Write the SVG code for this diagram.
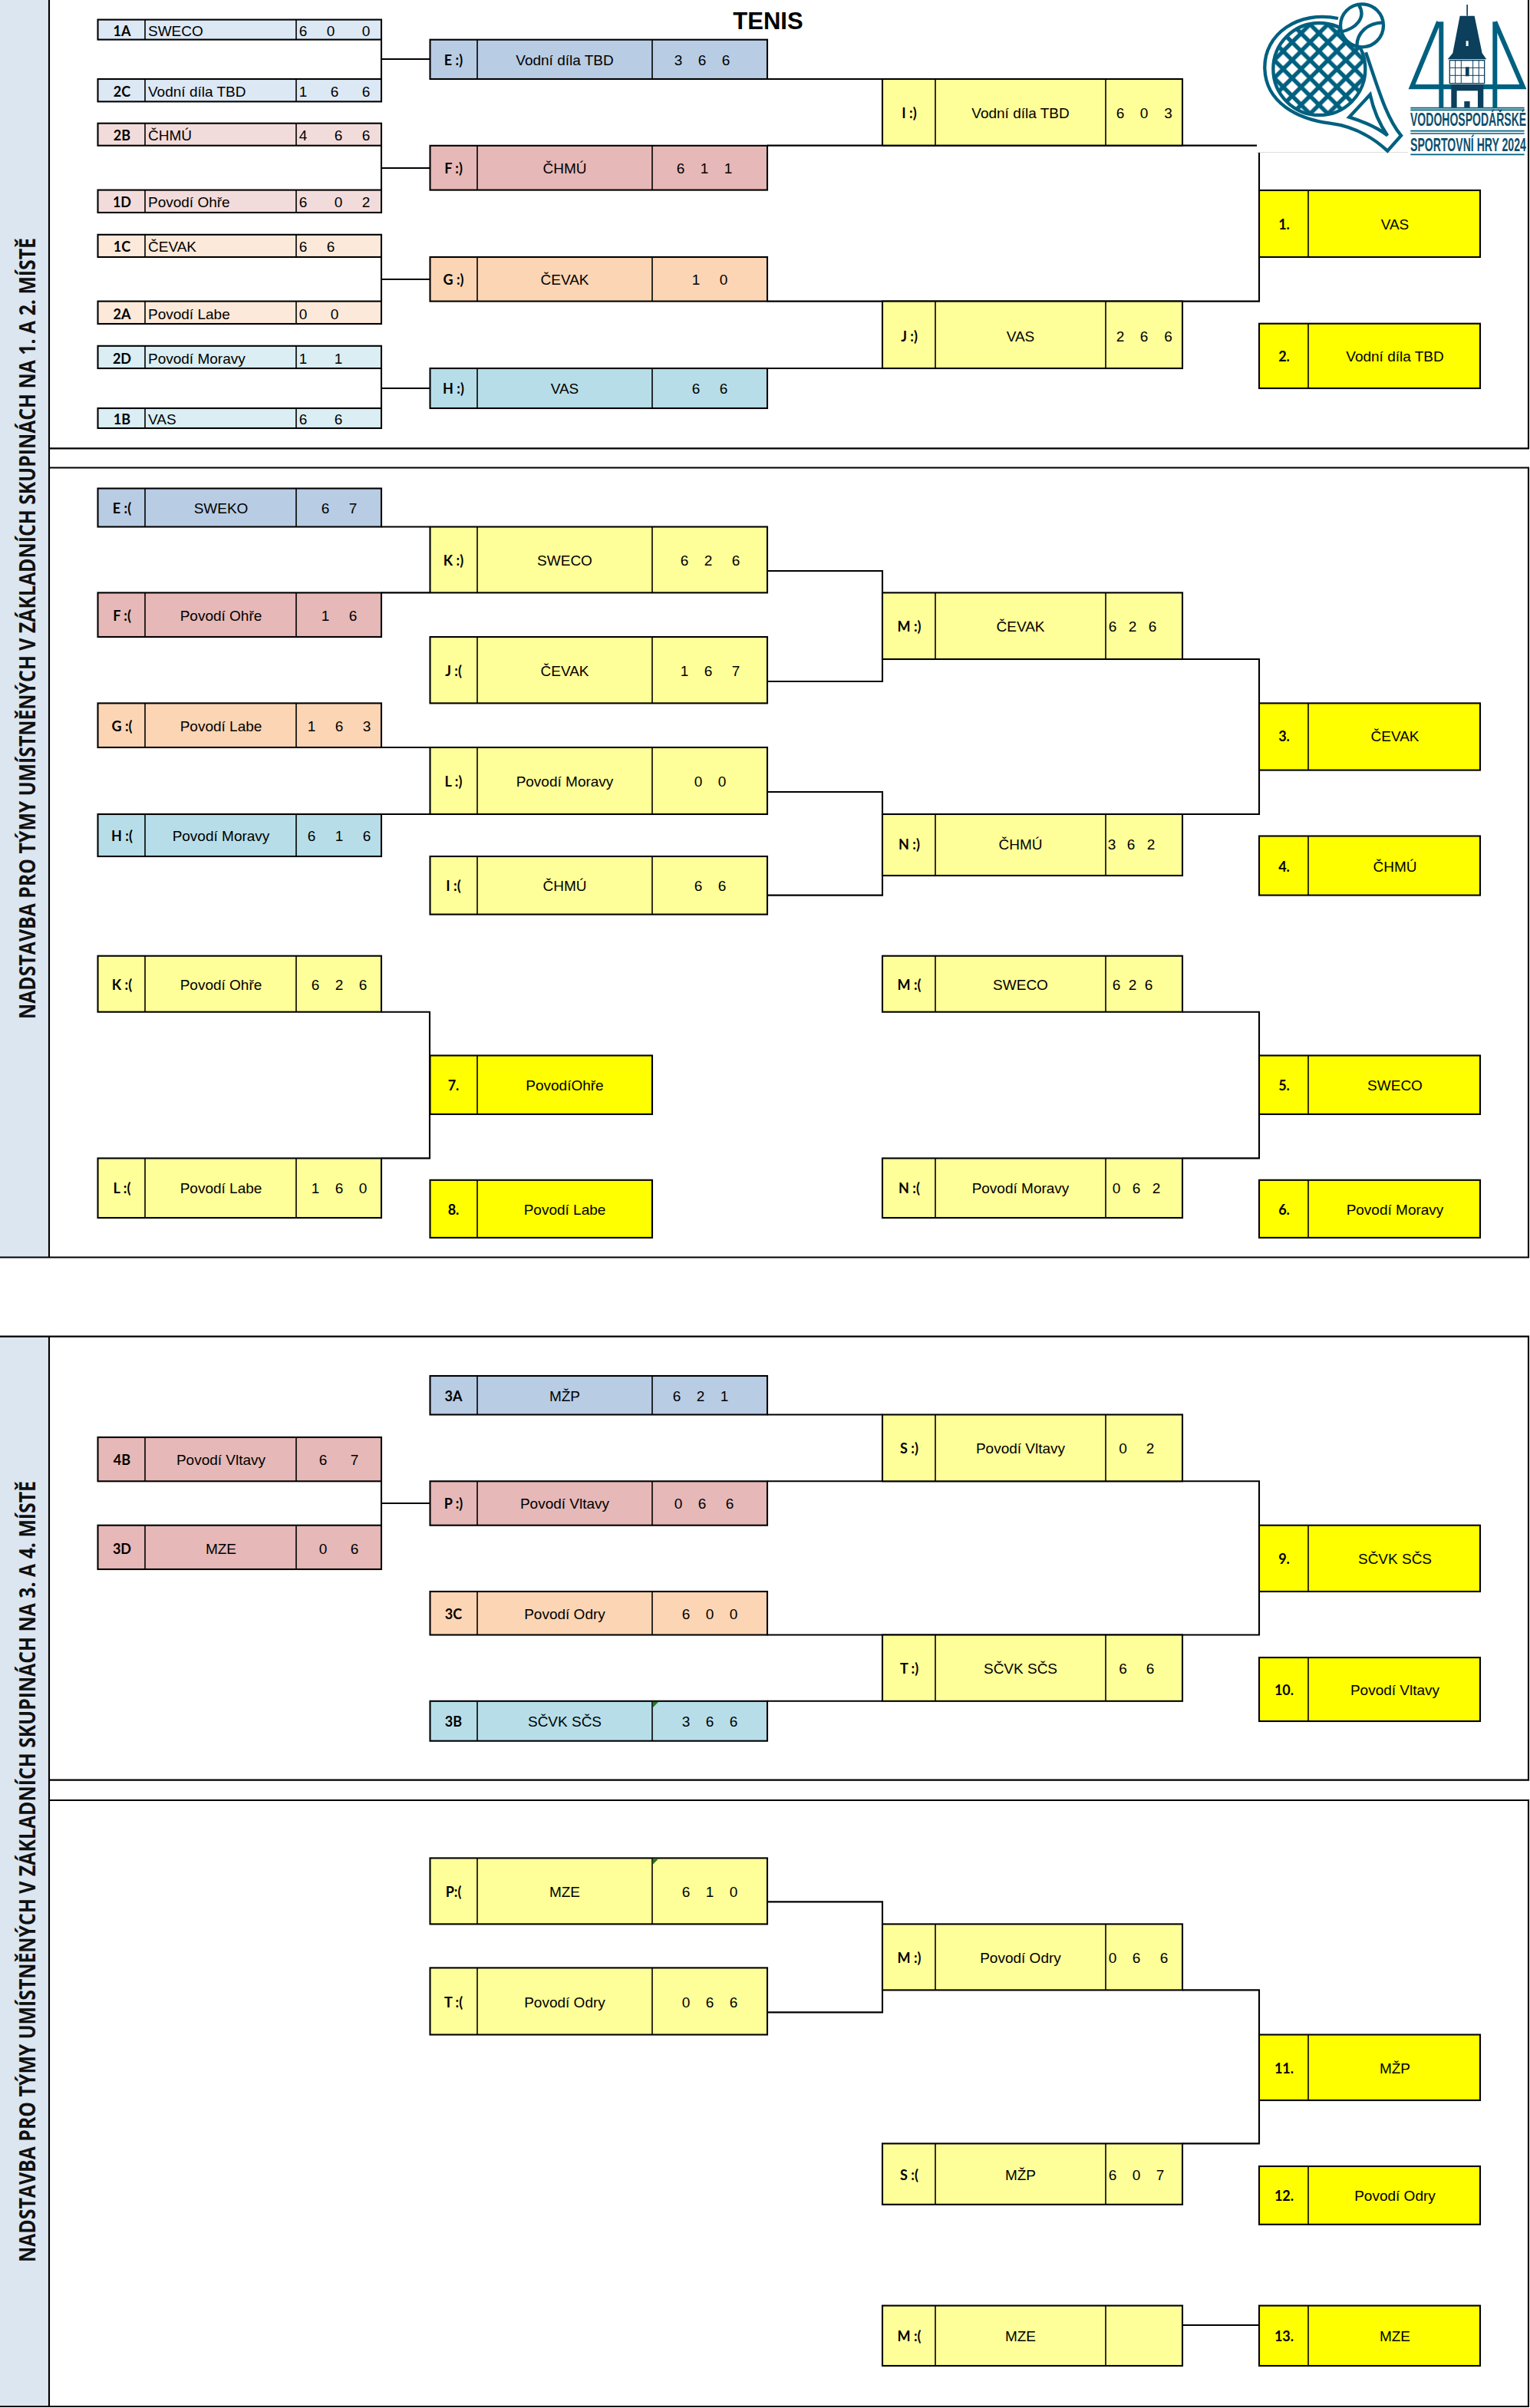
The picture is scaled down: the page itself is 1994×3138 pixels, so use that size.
<svg xmlns="http://www.w3.org/2000/svg" width="1994" height="3138" viewBox="0 0 1994 3138">
<style>
text{fill:#000}
.box{stroke:#000;stroke-width:2.1}
.div{stroke:#000;stroke-width:1.6;fill:none}
.c{fill:none;stroke:#000;stroke-width:2.1}
.lab{font:bold 18px Lato,"Liberation Sans",sans-serif;text-anchor:middle}
.nm{font:19px "Liberation Sans",Arial,sans-serif;text-anchor:middle}
.nl{font:19px "Liberation Sans",Arial,sans-serif}
.sc{font:19px "Liberation Sans",Arial,sans-serif;text-anchor:middle}
.band{font:bold 28px "Open Sans",sans-serif;fill:#111}
.b0{fill:#DDE8F5}.p0{fill:#F2DCDB}.o0{fill:#FDE9D9}.a0{fill:#DAEEF3}
.b1{fill:#B8CCE4}.p1{fill:#E6B8B7}.o1{fill:#FCD5B4}.a1{fill:#B7DEE8}
.ly{fill:#FFFF99}.yy{fill:#FFFF00}
.tri{fill:#1E7B1E}
.t{fill:none;stroke:#00607F;stroke-width:13}
.d{fill:#0B3F5C}
.logoT{font:bold 23px "Liberation Sans",Arial,sans-serif;fill:#0E4F6E}
</style>
<defs>
<pattern id="net" width="70" height="70" patternUnits="userSpaceOnUse" patternTransform="translate(17 -10)">
<path d="M-10 10L10 -10M-5 75L75 -5M60 80L80 60M-10 60L10 80M-5 -5L75 75M60 -10L80 10" stroke="#00607F" stroke-width="16" fill="none"/>
</pattern>
<clipPath id="head"><ellipse cx="298" cy="270" rx="180" ry="180"/></clipPath>
</defs>
<rect width="1994" height="3138" fill="#fff"/>
<g id="bands">
<rect x="0" y="0" width="64" height="1638" fill="#DCE6F1"/>
<rect x="0" y="1741" width="64" height="1395" fill="#DCE6F1"/>
<text class="band" transform="translate(46 1328) rotate(-90)" textLength="1018" lengthAdjust="spacingAndGlyphs">NADSTAVBA PRO TÝMY UMÍSTNĚNÝCH V ZÁKLADNÍCH SKUPINÁCH NA 1. A 2. MÍSTĚ</text>
<text class="band" transform="translate(46 2948) rotate(-90)" textLength="1018" lengthAdjust="spacingAndGlyphs">NADSTAVBA PRO TÝMY UMÍSTNĚNÝCH V ZÁKLADNÍCH SKUPINÁCH NA 3. A 4. MÍSTĚ</text>
</g>
<g id="panels">
<path class="c" d="M64 0V1638.5M0 1638.5H1992V609.5H64M64 584.4H1992V0"/>
<path class="c" d="M0 1741.6H1992V2319.6H64M64 2346H1992V3136H0M64 1741.6V3136"/>
</g>
<text id="title" x="1001" y="38" text-anchor="middle" style="font:bold 31px 'Liberation Sans',Arial,sans-serif">TENIS</text>
<g id="connectors">
<path class="c" d="M497 52V103M497 77H560M497 190V248M497 219H560M497 335V393M497 364H560M497 480V532M497 506H560"/>
<path class="c" d="M1000 103H1150M1000 189.6H1640M1000 392.6H1641V195M1000 480H1150"/>
<path class="c" d="M497 686.5H560M497 772.4H560M497 974H560M497 1061H560M497 1318.7H560V1509.4H497"/>
<path class="c" d="M1000 744H1150V888H1000M1000 1032H1150V1166.6H1000M1541 859H1641V1061H1541M1541 1318.7H1641V1509.4H1541"/>
<path class="c" d="M497 1930V1988M497 1959H560M1000 1843.5H1150M1000 1930.3H1641V2130.5H1000M1000 2216.8H1150"/>
<path class="c" d="M1000 2478.4H1150V2622.4H1000M1541 2593.4H1641V2793.4H1541M1541 3030H1641"/>
</g>

<g id="n1A"><rect class="box b0" x="127.5" y="25.6" width="369.5" height="26"/><path class="div" d="M189 25.6V51.6M386 25.6V51.6"/><text class="lab" x="159" y="47">1A</text><text class="nl" x="193" y="47">SWECO</text><text class="sc" x="395 413 431 454 477" y="47">6 0 0</text></g>
<g id="n2C"><rect class="box b0" x="127.5" y="103" width="369.5" height="29.4"/><path class="div" d="M189 103V132.4M386 103V132.4"/><text class="lab" x="159" y="125.5">2C</text><text class="nl" x="193" y="125.5">Vodní díla TBD</text><text class="sc" x="395 415 436 456 477" y="125.5">1 6 6</text></g>
<g id="n2B"><rect class="box p0" x="127.5" y="160.7" width="369.5" height="29"/><path class="div" d="M189 160.7V189.7M386 160.7V189.7"/><text class="lab" x="159" y="183">2B</text><text class="nl" x="193" y="183">ČHMÚ</text><text class="sc" x="395 418 441 459 477" y="183">4 6 6</text></g>
<g id="n1D"><rect class="box p0" x="127.5" y="247.6" width="369.5" height="29.4"/><path class="div" d="M189 247.6V277M386 247.6V277"/><text class="lab" x="159" y="270">1D</text><text class="nl" x="193" y="270">Povodí Ohře</text><text class="sc" x="395 418 441 459 477" y="270">6 0 2</text></g>
<g id="n1C"><rect class="box o0" x="127.5" y="305.8" width="369.5" height="29.2"/><path class="div" d="M189 305.8V335M386 305.8V335"/><text class="lab" x="159" y="328">1C</text><text class="nl" x="193" y="328">ČEVAK</text><text class="sc" x="395 413 431" y="328">6 6</text></g>
<g id="n2A"><rect class="box o0" x="127.5" y="392.6" width="369.5" height="29.4"/><path class="div" d="M189 392.6V422M386 392.6V422"/><text class="lab" x="159" y="415.5">2A</text><text class="nl" x="193" y="415.5">Povodí Labe</text><text class="sc" x="395 415 436" y="415.5">0 0</text></g>
<g id="n2D"><rect class="box a0" x="127.5" y="450.8" width="369.5" height="29.2"/><path class="div" d="M189 450.8V480M386 450.8V480"/><text class="lab" x="159" y="473.5">2D</text><text class="nl" x="193" y="473.5">Povodí Moravy</text><text class="sc" x="395 418 441" y="473.5">1 1</text></g>
<g id="n1B"><rect class="box a0" x="127.5" y="532" width="369.5" height="26"/><path class="div" d="M189 532V558M386 532V558"/><text class="lab" x="159" y="553">1B</text><text class="nl" x="193" y="553">VAS</text><text class="sc" x="395 418 441" y="553">6 6</text></g>

<g id="nE"><rect class="box b1" x="560.5" y="51.7" width="439.5" height="51.3"/><path class="div" d="M622 51.7V103M850 51.7V103"/><text class="lab" x="591" y="85">E :)</text><text class="nm" x="736" y="85">Vodní díla TBD</text><text class="sc" x="884 900 915 930 946" y="85">3 6 6</text></g>
<g id="nF"><rect class="box p1" x="560.5" y="189.8" width="439.5" height="57.8"/><path class="div" d="M622 189.8V247.6M850 189.8V247.6"/><text class="lab" x="591" y="226">F :)</text><text class="nm" x="736" y="226">ČHMÚ</text><text class="sc" x="887 902 918 933 949" y="226">6 1 1</text></g>
<g id="nG"><rect class="box o1" x="560.5" y="335" width="439.5" height="57.6"/><path class="div" d="M622 335V392.6M850 335V392.6"/><text class="lab" x="591" y="371">G :)</text><text class="nm" x="736" y="371">ČEVAK</text><text class="sc" x="907 925 943" y="371">1 0</text></g>
<g id="nH"><rect class="box a1" x="560.5" y="480" width="439.5" height="52"/><path class="div" d="M622 480V532M850 480V532"/><text class="lab" x="591" y="513">H :)</text><text class="nm" x="736" y="513">VAS</text><text class="sc" x="907 925 943" y="513">6 6</text></g>

<g id="nI"><rect class="box ly" x="1150" y="103" width="391" height="86.6"/><path class="div" d="M1219 103V189.6M1441 103V189.6"/><text class="lab" x="1185" y="154">I :)</text><text class="nm" x="1330" y="154">Vodní díla TBD</text><text class="sc" x="1460 1475 1491 1507 1522.5" y="154">6 0 3</text></g>
<g id="nJ"><rect class="box ly" x="1150" y="392.6" width="391" height="87.4"/><path class="div" d="M1219 392.6V480M1441 392.6V480"/><text class="lab" x="1185" y="444.5">J :)</text><text class="nm" x="1330" y="444.5">VAS</text><text class="sc" x="1460 1475 1491 1507 1522.5" y="444.5">2 6 6</text></g>
<g id="r1"><rect class="box yy" x="1641" y="248" width="288" height="87"/><path class="div" d="M1705 248V335"/><text class="lab" x="1673.5" y="299">1.</text><text class="nm" x="1818" y="299">VAS</text></g>
<g id="r2"><rect class="box yy" x="1641" y="421.7" width="288" height="84.3"/><path class="div" d="M1705 421.7V506"/><text class="lab" x="1673.5" y="471">2.</text><text class="nm" x="1818" y="471">Vodní díla TBD</text></g>

<g id="nEl"><rect class="box b1" x="127.5" y="636.5" width="369.5" height="50"/><path class="div" d="M189 636.5V686.5M386 636.5V686.5"/><text class="lab" x="159" y="668.5">E :(</text><text class="nm" x="288" y="668.5">SWEKO</text><text class="sc" x="424 442 460" y="668.5">6 7</text></g>
<g id="nFl"><rect class="box p1" x="127.5" y="772.4" width="369.5" height="57.6"/><path class="div" d="M189 772.4V830M386 772.4V830"/><text class="lab" x="159" y="808.5">F :(</text><text class="nm" x="288" y="808.5">Povodí Ohře</text><text class="sc" x="424 442 460" y="808.5">1 6</text></g>
<g id="nGl"><rect class="box o1" x="127.5" y="916.4" width="369.5" height="57.6"/><path class="div" d="M189 916.4V974M386 916.4V974"/><text class="lab" x="159" y="953">G :(</text><text class="nm" x="288" y="953">Povodí Labe</text><text class="sc" x="406 424 442 460 478" y="953">1 6 3</text></g>
<g id="nHl"><rect class="box a1" x="127.5" y="1061" width="369.5" height="55"/><path class="div" d="M189 1061V1116M386 1061V1116"/><text class="lab" x="159" y="1096">H :(</text><text class="nm" x="288" y="1096">Povodí Moravy</text><text class="sc" x="406 424 442 460 478" y="1096">6 1 6</text></g>
<g id="nKl"><rect class="box ly" x="127.5" y="1245.7" width="369.5" height="73"/><path class="div" d="M189 1245.7V1318.7M386 1245.7V1318.7"/><text class="lab" x="159" y="1290">K :(</text><text class="nm" x="288" y="1290">Povodí Ohře</text><text class="sc" x="411 426 442 457 473" y="1290">6 2 6</text></g>
<g id="nLl"><rect class="box ly" x="127.5" y="1509.4" width="369.5" height="77.6"/><path class="div" d="M189 1509.4V1587M386 1509.4V1587"/><text class="lab" x="159" y="1555">L :(</text><text class="nm" x="288" y="1555">Povodí Labe</text><text class="sc" x="411 426 442 457 473" y="1555">1 6 0</text></g>

<g id="nKw"><rect class="box ly" x="560.5" y="686.5" width="439.5" height="85.9"/><path class="div" d="M622 686.5V772.4M850 686.5V772.4"/><text class="lab" x="591" y="737">K :)</text><text class="nm" x="736" y="737">SWECO</text><text class="sc" x="892 907 923 941 959" y="737">6 2 6</text></g>
<g id="nJl"><rect class="box ly" x="560.5" y="830" width="439.5" height="86.4"/><path class="div" d="M622 830V916.4M850 830V916.4"/><text class="lab" x="591" y="881">J :(</text><text class="nm" x="736" y="881">ČEVAK</text><text class="sc" x="892 907 923 941 959" y="881">1 6 7</text></g>
<g id="nLw"><rect class="box ly" x="560.5" y="974" width="439.5" height="87"/><path class="div" d="M622 974V1061M850 974V1061"/><text class="lab" x="591" y="1025">L :)</text><text class="nm" x="736" y="1025">Povodí Moravy</text><text class="sc" x="910 925 941" y="1025">0 0</text></g>
<g id="nIl"><rect class="box ly" x="560.5" y="1116" width="439.5" height="75.6"/><path class="div" d="M622 1116V1191.6M850 1116V1191.6"/><text class="lab" x="591" y="1161">I :(</text><text class="nm" x="736" y="1161">ČHMÚ</text><text class="sc" x="910 925 941" y="1161">6 6</text></g>
<g id="r7"><rect class="box yy" x="560.5" y="1375.5" width="289.5" height="76.5"/><path class="div" d="M622 1375.5V1452"/><text class="lab" x="591" y="1421">7.</text><text class="nm" x="736" y="1421">PovodíOhře</text></g>
<g id="r8"><rect class="box yy" x="560.5" y="1537.8" width="289.5" height="75.1"/><path class="div" d="M622 1537.8V1612.9"/><text class="lab" x="591" y="1582.5">8.</text><text class="nm" x="736" y="1582.5">Povodí Labe</text></g>

<g id="nMw"><rect class="box ly" x="1150" y="772.4" width="391" height="86.6"/><path class="div" d="M1219 772.4V859M1441 772.4V859"/><text class="lab" x="1185" y="822.5">M :)</text><text class="nm" x="1330" y="822.5">ČEVAK</text><text class="sc" x="1450 1463 1476 1489 1502" y="822.5">6 2 6</text></g>
<g id="nNw"><rect class="box ly" x="1150" y="1061" width="391" height="80"/><path class="div" d="M1219 1061V1141M1441 1061V1141"/><text class="lab" x="1185" y="1107">N :)</text><text class="nm" x="1330" y="1107">ČHMÚ</text><text class="sc" x="1449 1461 1474 1487 1500" y="1107">3 6 2</text></g>
<g id="r3"><rect class="box yy" x="1641" y="916.4" width="288" height="87.2"/><path class="div" d="M1705 916.4V1003.6"/><text class="lab" x="1673.5" y="966">3.</text><text class="nm" x="1818" y="966">ČEVAK</text></g>
<g id="r4"><rect class="box yy" x="1641" y="1089.5" width="288" height="77.1"/><path class="div" d="M1705 1089.5V1166.6"/><text class="lab" x="1673.5" y="1135.5">4.</text><text class="nm" x="1818" y="1135.5">ČHMÚ</text></g>
<g id="nMl"><rect class="box ly" x="1150" y="1245.7" width="391" height="73"/><path class="div" d="M1219 1245.7V1318.7M1441 1245.7V1318.7"/><text class="lab" x="1185" y="1290">M :(</text><text class="nm" x="1330" y="1290">SWECO</text><text class="sc" x="1455 1465 1476 1486 1497" y="1290">6 2 6</text></g>
<g id="nNl"><rect class="box ly" x="1150" y="1509.4" width="391" height="77.6"/><path class="div" d="M1219 1509.4V1587M1441 1509.4V1587"/><text class="lab" x="1185" y="1555">N :(</text><text class="nm" x="1330" y="1555">Povodí Moravy</text><text class="sc" x="1455 1468 1481 1494 1507" y="1555">0 6 2</text></g>
<g id="r5"><rect class="box yy" x="1641" y="1375.5" width="288" height="76.5"/><path class="div" d="M1705 1375.5V1452"/><text class="lab" x="1673.5" y="1421">5.</text><text class="nm" x="1818" y="1421">SWECO</text></g>
<g id="r6"><rect class="box yy" x="1641" y="1537.8" width="288" height="75.1"/><path class="div" d="M1705 1537.8V1612.9"/><text class="lab" x="1673.5" y="1582.5">6.</text><text class="nm" x="1818" y="1582.5">Povodí Moravy</text></g>

<g id="n4B"><rect class="box p1" x="127.5" y="1873" width="369.5" height="57.3"/><path class="div" d="M189 1873V1930.3M386 1873V1930.3"/><text class="lab" x="159" y="1909">4B</text><text class="nm" x="288" y="1909">Povodí Vltavy</text><text class="sc" x="421 441 462" y="1909">6 7</text></g>
<g id="n3D"><rect class="box p1" x="127.5" y="1987.7" width="369.5" height="57.3"/><path class="div" d="M189 1987.7V2045M386 1987.7V2045"/><text class="lab" x="159" y="2024.5">3D</text><text class="nm" x="288" y="2024.5">MZE</text><text class="sc" x="421 441 462" y="2024.5">0 6</text></g>
<g id="n3A"><rect class="box b1" x="560.5" y="1793" width="439.5" height="50.5"/><path class="div" d="M622 1793V1843.5M850 1793V1843.5"/><text class="lab" x="591" y="1825.5">3A</text><text class="nm" x="736" y="1825.5">MŽP</text><text class="sc" x="882 898 913 929 944" y="1825.5">6 2 1</text></g>
<g id="nPw"><rect class="box p1" x="560.5" y="1930.3" width="439.5" height="57.4"/><path class="div" d="M622 1930.3V1987.7M850 1930.3V1987.7"/><text class="lab" x="591" y="1966">P :)</text><text class="nm" x="736" y="1966">Povodí Vltavy</text><text class="sc" x="884 900 915 933 951" y="1966">0 6 6</text></g>
<g id="n3C"><rect class="box o1" x="560.5" y="2074" width="439.5" height="56.5"/><path class="div" d="M622 2074V2130.5M850 2074V2130.5"/><text class="lab" x="591" y="2110">3C</text><text class="nm" x="736" y="2110">Povodí Odry</text><text class="sc" x="894 910 925 941 956" y="2110">6 0 0</text></g>
<g id="n3B"><rect class="box a1" x="560.5" y="2216.8" width="439.5" height="51.9"/><path class="div" d="M622 2216.8V2268.7M850 2216.8V2268.7"/><path class="tri" d="M851 2218H858L851 2225Z"/><text class="lab" x="591" y="2250">3B</text><text class="nm" x="736" y="2250">SČVK SČS</text><text class="sc" x="894 910 925 941 956" y="2250">3 6 6</text></g>
<g id="nS"><rect class="box ly" x="1150" y="1843.5" width="391" height="86.8"/><path class="div" d="M1219 1843.5V1930.3M1441 1843.5V1930.3"/><text class="lab" x="1185" y="1894">S :)</text><text class="nm" x="1330" y="1894">Povodí Vltavy</text><text class="sc" x="1463.5 1481 1499" y="1894">0 2</text></g>
<g id="nT"><rect class="box ly" x="1150" y="2130.5" width="391" height="86.3"/><path class="div" d="M1219 2130.5V2216.8M1441 2130.5V2216.8"/><text class="lab" x="1185" y="2181">T :)</text><text class="nm" x="1330" y="2181">SČVK SČS</text><text class="sc" x="1463.5 1481 1499" y="2181">6 6</text></g>
<g id="r9"><rect class="box yy" x="1641" y="1987.7" width="288" height="86.3"/><path class="div" d="M1705 1987.7V2074"/><text class="lab" x="1673.5" y="2038">9.</text><text class="nm" x="1818" y="2038">SČVK SČS</text></g>
<g id="r10"><rect class="box yy" x="1641" y="2160" width="288" height="83"/><path class="div" d="M1705 2160V2243"/><text class="lab" x="1673.5" y="2209">10.</text><text class="nm" x="1818" y="2209">Povodí Vltavy</text></g>

<g id="nPl"><rect class="box ly" x="560.5" y="2421.4" width="439.5" height="86"/><path class="div" d="M622 2421.4V2507.4M850 2421.4V2507.4"/><path class="tri" d="M851 2422.6H858L851 2429.6Z"/><text class="lab" x="591" y="2472">P:(</text><text class="nm" x="736" y="2472">MZE</text><text class="sc" x="894 910 925 941 956" y="2472">6 1 0</text></g>
<g id="nTl"><rect class="box ly" x="560.5" y="2564.4" width="439.5" height="87.1"/><path class="div" d="M622 2564.4V2651.5M850 2564.4V2651.5"/><text class="lab" x="591" y="2616">T :(</text><text class="nm" x="736" y="2616">Povodí Odry</text><text class="sc" x="894 910 925 941 956" y="2616">0 6 6</text></g>
<g id="nM2w"><rect class="box ly" x="1150" y="2507.4" width="391" height="86"/><path class="div" d="M1219 2507.4V2593.4M1441 2507.4V2593.4"/><text class="lab" x="1185" y="2557.5">M :)</text><text class="nm" x="1330" y="2557.5">Povodí Odry</text><text class="sc" x="1450 1465 1481 1499 1517" y="2557.5">0 6 6</text></g>
<g id="nSl"><rect class="box ly" x="1150" y="2793.4" width="391" height="79.4"/><path class="div" d="M1219 2793.4V2872.8M1441 2793.4V2872.8"/><text class="lab" x="1185" y="2840.5">S :(</text><text class="nm" x="1330" y="2840.5">MŽP</text><text class="sc" x="1450 1465 1481 1496 1512" y="2840.5">6 0 7</text></g>
<g id="nM2l"><rect class="box ly" x="1150" y="3004.6" width="391" height="78.4"/><path class="div" d="M1219 3004.6V3083M1441 3004.6V3083"/><text class="lab" x="1185" y="3051">M :(</text><text class="nm" x="1330" y="3051">MZE</text></g>
<g id="r11"><rect class="box yy" x="1641" y="2651.5" width="288" height="85.5"/><path class="div" d="M1705 2651.5V2737"/><text class="lab" x="1673.5" y="2701.5">11.</text><text class="nm" x="1818" y="2701.5">MŽP</text></g>
<g id="r12"><rect class="box yy" x="1641" y="2823" width="288" height="75.8"/><path class="div" d="M1705 2823V2898.8"/><text class="lab" x="1673.5" y="2868">12.</text><text class="nm" x="1818" y="2868">Povodí Odry</text></g>
<g id="r13"><rect class="box yy" x="1641" y="3004.6" width="288" height="78.4"/><path class="div" d="M1705 3004.6V3083"/><text class="lab" x="1673.5" y="3051">13.</text><text class="nm" x="1818" y="3051">MZE</text></g>

<g id="logo">
<rect x="1638" y="0" width="352" height="198" fill="#fff"/>
<path d="M1638 198.5H1835" stroke="#ddd" stroke-width="1"/>
<rect x="1838" y="0" width="152" height="203" fill="#fff"/>
<g transform="translate(1620 0) scale(.3333)">
<rect x="100" y="80" width="390" height="390" fill="url(#net)" clip-path="url(#head)"/>
<ellipse class="t" cx="298" cy="270" rx="180" ry="180"/>
<path class="t" d="M372 72C220 40 80 130 85 270C90 400 210 465 340 482C420 492 500 530 565 590L618 530C560 460 530 350 480 205"/>
<path class="t" d="M497 370L415 458C470 475 520 495 565 530C530 480 510 430 497 370Z"/>
<circle cx="465" cy="100" r="84" fill="#fff" stroke="#00607F" stroke-width="13"/>
<path class="t" d="M452 18C485 70 440 112 382 125M546 88C485 90 445 130 445 180"/>
<path d="M765 85L660 340H1095L985 85M775 85V420M985 85V420" fill="none" stroke="#00607F" stroke-width="18"/>
<rect x="655" y="330" width="445" height="16" fill="#00607F"/>
<path class="d" d="M848 62H905L935 208L952 232H800L820 208Z"/>
<rect x="874" y="18" width="5" height="44" class="d"/>
<rect x="872" y="160" width="9" height="20" fill="#fff"/>
<rect x="808" y="236" width="136" height="90" fill="#fff" stroke="#0B3F5C" stroke-width="4"/>
<path d="M808 265H944M808 295H944M830 236V326M853 236V326M899 236V326M922 236V326" stroke="#0B3F5C" stroke-width="3"/>
<rect x="870" y="262" width="14" height="36" class="d"/>
<path class="d" d="M814 330H940V422H918V355H836V422H814Z"/>
<rect x="865" y="396" width="22" height="26" class="d"/>
<path d="M655 422H1100M655 430H1100M655 512H1100M655 522H1100M655 604H1100" stroke="#00607F" stroke-width="5"/>
</g>
<text class="logoT" transform="translate(1838 163.5) scale(.61 1)">VODOHOSPODÁŘSKÉ</text>
<text class="logoT" transform="translate(1838 197) scale(.613 1)">SPORTOVNÍ HRY 2024</text>
</g>
</svg>
